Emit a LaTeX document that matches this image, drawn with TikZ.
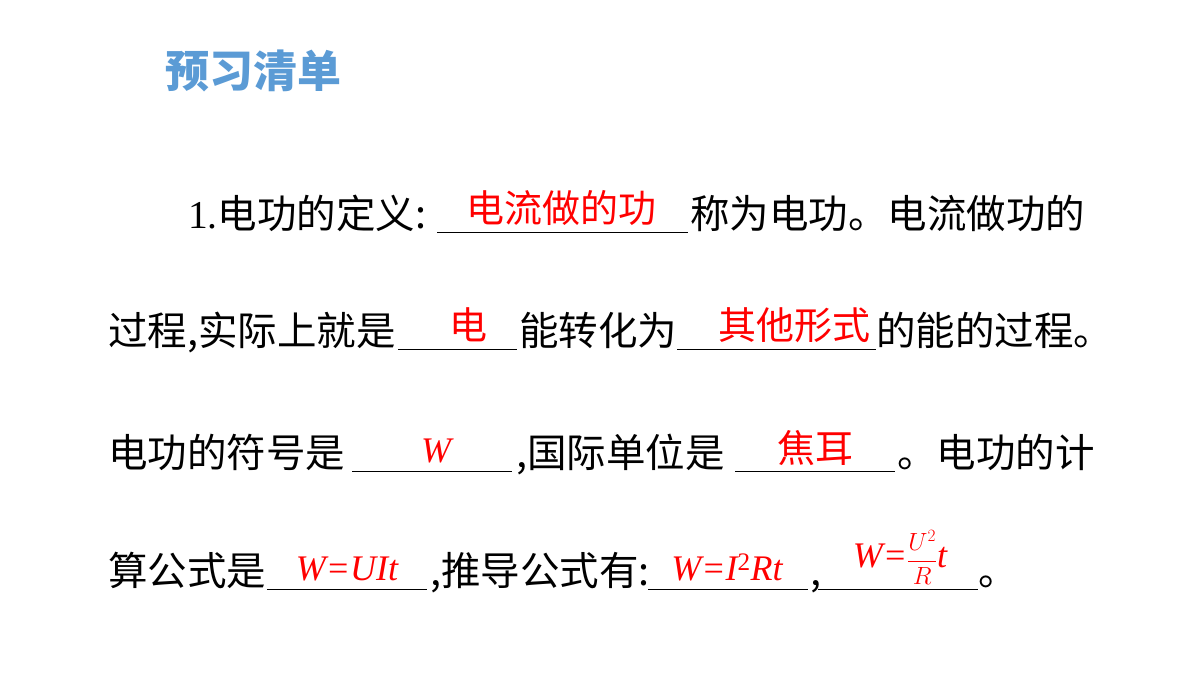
\documentclass[tikz,border=0pt]{standalone}
\usepackage{fontspec}
\newfontfamily\cjk{Noto Sans CJK SC}
\newfontfamily\ser{Liberation Serif}
\definecolor{tblue}{HTML}{5B9BD5}
\begin{document}
\begin{tikzpicture}[x=1pt,y=-1pt,
  t/.style={anchor=base west,inner sep=0pt,font=\fontsize{39.5}{39}\cjk},
  a/.style={anchor=base,inner sep=0pt,text=red,font=\fontsize{38}{38}\cjk},
  am/.style={anchor=base,inner sep=0pt,text=red,font=\fontsize{36}{36}\ser\itshape},
  ul/.style={line width=1pt}]
\useasboundingbox (0,0) rectangle (1200,675);
\node[anchor=base west,inner sep=0pt,text=tblue,font=\fontsize{44}{44}\cjk\bfseries] (title) at (165,87) {预习清单};
% line 1
\node[t] (l1a) at (188,228) {{\ser 1.}电功的定义:};
\draw[ul] (437,232) -- (688,232);
\node[a] (r1) at (561,222) {电流做的功};
\node[t] (l1b) at (690,228) {称为电功。电流做功的};
% line 2
\node[t] (l2a) at (108,345) {过程,实际上就是};
\draw[ul] (398,349) -- (517,349);
\node[a] (r2) at (468,339) {电};
\node[t] (l2b) at (519,345) {能转化为};
\draw[ul] (677,349) -- (876,349);
\node[a] (r3) at (794,339) {其他形式};
\node[t] (l2c) at (876,345) {的能的过程。};
% line 3
\node[t] (l3a) at (108,467) {电功的符号是};
\draw[ul] (352,471) -- (512,471);
\node[am] (r4) at (436,462) {W};
\node[t] (l3b) at (516,467) {,国际单位是};
\draw[ul] (735,471) -- (895,471);
\node[a] (r5) at (815,462) {焦耳};
\node[t] (l3c) at (897,467) {。电功的计};
% line 4
\node[t] (l4a) at (108,585) {算公式是};
\draw[ul] (267,589) -- (427,589);
\node[am] (r6) at (347,580) {W=UIt};
\node[t] (l4b) at (430,585) {,推导公式有:};
\draw[ul] (648,589) -- (808,589);
\node[am] (r7) at (727,580) {W=I\textsuperscript{\upshape 2}Rt};
\node[t] (l4c) at (810,585) {,};
\draw[ul] (818,589) -- (978,589);
\node[am] (r8) at (900,567) {W=$\displaystyle\frac{\scriptstyle U^2}{\scriptstyle R}$t};
\node[t] (l4d) at (978,585) {。};
\end{tikzpicture}
\end{document}
